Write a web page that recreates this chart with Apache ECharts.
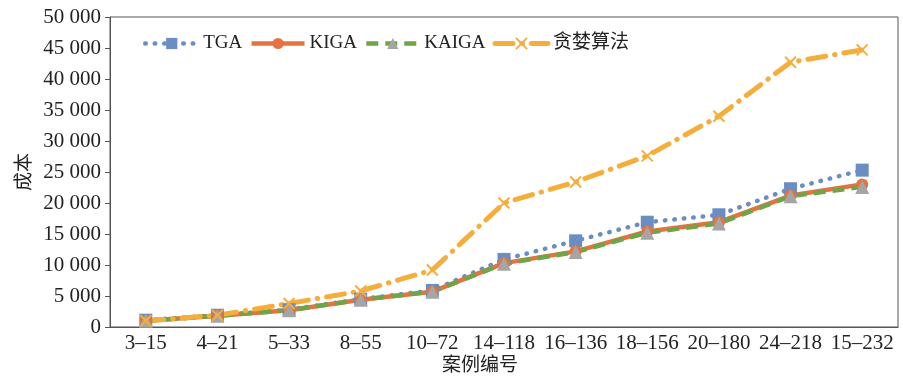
<!DOCTYPE html>
<html><head><meta charset="utf-8">
<script src="https://cdn.jsdelivr.net/npm/echarts@6/dist/echarts.min.js"></script>
<style>html,body{margin:0;padding:0;background:#fff}#c{width:903px;height:376px}</style>
</head><body><div id="c"></div>
<script>
const categories = ['3–15','4–21','5–33','8–55','10–72','14–118','16–136','18–156','20–180','24–218','15–232'];
const tga    = [1100, 1900, 2800, 4500, 5900, 10900, 13900, 16900, 18100, 22300, 25300];
const kiga   = [1000, 1800, 2700, 4400, 5700, 10300, 12200, 15400, 16900, 21200, 23000];
const kaiga  = [1000, 1800, 2700, 4400, 5700, 10200, 12100, 15200, 16700, 21100, 22600];
const greedy = [1000, 1900, 3800, 5800, 9200, 20000, 23400, 27600, 34000, 42700, 44700];
const seriesNames = ['TGA','KIGA','KAIGA','贪婪算法'];

const serif = 'Liberation Serif';
const C = {tga: '#6A8DC2', kiga: '#E5733F', kaigaLine: '#6FA448', kaigaMark: '#A5A5A5', greedy: '#F5AE3C'};
const S = {
  tga:   {color: C.tga, width: 4.5, type: [0.5, 9], cap: 'round'},
  kiga:  {color: C.kiga, width: 4.5, type: 'solid'},
  kaiga: {color: C.kaigaLine, width: 4.5, type: [12, 7]},
  greedy:{color: C.greedy, width: 5, type: [18, 9, 0.5, 9], cap: 'round'}
};
const chart = echarts.init(document.getElementById('c'));
const fmt = v => { const s = String(v); return s.length > 3 ? s.slice(0, s.length-3) + ' ' + s.slice(-3) : s; };
chart.setOption({
  animation: false,
  grid: {left: 110, right: 5, top: 17, bottom: 49, show: true, borderColor: '#555', borderWidth: 1, outerBoundsMode: 'none', containLabel: false},
  legend: {
    left: 138, top: 29, itemWidth: 53, itemHeight: 14, itemGap: 7,
    textStyle: {fontFamily: serif + ', Noto Sans CJK SC', fontSize: 19, color: '#222'},
    data: [
      {name: seriesNames[0], lineStyle: S.tga},
      {name: seriesNames[1], lineStyle: S.kiga},
      {name: seriesNames[2], lineStyle: S.kaiga},
      {name: seriesNames[3], lineStyle: S.greedy}
    ]
  },
  xAxis: {
    type: 'category', data: categories, boundaryGap: true,
    axisLine: {lineStyle: {color: '#555'}}, axisTick: {show: false},
    axisLabel: {fontFamily: serif, fontSize: 21, color: '#222', interval: 0, margin: 6},
    name: '案例编号', nameLocation: 'middle', nameGap: 37, nameMoveOverlap: false,
    nameTextStyle: {fontFamily: 'Noto Sans CJK SC', fontSize: 19, color: '#222', verticalAlign: 'middle', padding: [0, 48, 0, 0]}
  },
  yAxis: {
    type: 'value', min: 0, max: 50000, interval: 5000,
    axisLine: {show: true, lineStyle: {color: '#555'}},
    axisTick: {show: true, inside: false, length: 5, lineStyle: {color: '#555'}},
    splitLine: {show: false},
    axisLabel: {fontFamily: serif, fontSize: 21, color: '#222', margin: 9, formatter: fmt},
    name: '成本', nameLocation: 'middle', nameGap: 78, nameRotate: 90, nameMoveOverlap: false,
    nameTextStyle: {fontFamily: 'Noto Sans CJK SC', fontSize: 19, color: '#222'}
  },
  series: [
    {name: seriesNames[0], type: 'line', data: tga, symbol: 'rect', symbolSize: 13,
     itemStyle: {color: C.tga}, lineStyle: S.tga},
    {name: seriesNames[1], type: 'line', data: kiga, symbol: 'circle', symbolSize: 12,
     itemStyle: {color: C.kiga}, lineStyle: S.kiga},
    {name: seriesNames[2], type: 'line', data: kaiga, symbol: 'triangle', symbolSize: 14,
     itemStyle: {color: C.kaigaMark}, lineStyle: S.kaiga},
    {name: seriesNames[3], type: 'line', data: greedy,
     symbol: 'path://M0,0L10,10M10,0L0,10', symbolSize: 11,
     itemStyle: {color: 'rgba(0,0,0,0)', borderColor: C.greedy, borderWidth: 2},
     lineStyle: S.greedy}
  ]
});
</script></body></html>
